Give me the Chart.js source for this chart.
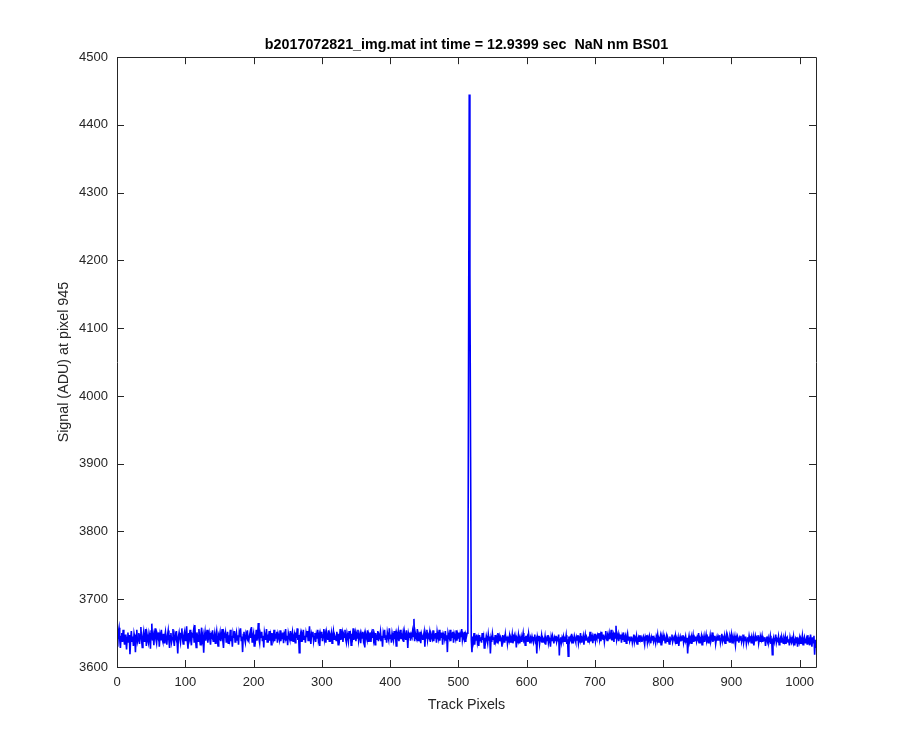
<!DOCTYPE html>
<html>
<head>
<meta charset="utf-8">
<script src="https://cdn.jsdelivr.net/npm/chart.js@4/dist/chart.umd.min.js"></script>
<style>
  body { margin: 0; background: #fff; }
  canvas { display: block; }
</style>
</head>
<body>
<canvas id="myChart" width="900" height="750"></canvas>
<script>
// signal along the track, one value per pixel starting at pixel 1
const chartTitle = 'b2017072821_img.mat int time = 12.9399 sec  NaN nm BS01'
const xLabel = 'Track Pixels'
const yLabel = 'Signal (ADU) at pixel 945'
const xTicks = [0, 100, 200, 300, 400, 500, 600, 700, 800, 900, 1000]
const yTicks = [3600, 3700, 3800, 3900, 4000, 4100, 4200, 4300, 4400, 4500]
const firstPixel = 1

const signal = [
  3630,3652,3658,3641,3628,3645,3650,3637,3655,3642,3633,3648,3639,3626,3644,3651,
  3636,3647,3619,3640,3653,3638,3645,3631,3649,3643,3622,3646,3655,3637,3641,3650,
  3634,3647,3659,3640,3629,3645,3652,3638,3643,3656,3631,3648,3641,3636,3650,3645,
  3627,3653,3664,3639,3646,3632,3649,3657,3641,3635,3648,3644,3651,3630,3646,3639,
  3655,3642,3638,3649,3636,3645,3652,3641,3633,3647,3654,3640,3628,3646,3650,3637,
  3643,3656,3639,3631,3648,3644,3653,3638,3620,3645,3651,3642,3636,3649,3657,3641,
  3634,3647,3652,3639,3645,3660,3638,3627,3650,3643,3655,3640,3632,3648,3646,3653,
  3637,3662,3641,3629,3651,3645,3638,3656,3643,3633,3649,3658,3640,3646,3621,3644,
  3652,3639,3647,3655,3636,3644,3650,3641,3633,3648,3645,3654,3638,3642,3649,3635,
  3646,3653,3640,3631,3647,3644,3651,3638,3645,3656,3639,3628,3648,3643,3650,3637,
  3644,3652,3635,3647,3641,3655,3638,3646,3630,3649,3643,3653,3637,3645,3651,3640,
  3647,3633,3650,3644,3657,3639,3645,3622,3648,3652,3641,3636,3649,3645,3654,3640,
  3638,3646,3651,3643,3659,3637,3645,3650,3631,3648,3642,3655,3639,3646,3665,3641,
  3635,3649,3644,3652,3638,3646,3629,3651,3645,3640,3656,3637,3648,3643,3653,3639,
  3646,3633,3650,3645,3641,3655,3638,3647,3643,3652,3636,3649,3645,3640,3654,3638,
  3647,3642,3651,3635,3648,3644,3656,3640,3646,3632,3650,3645,3641,3653,3639,3646,
  3652,3638,3645,3649,3636,3651,3643,3657,3640,3647,3621,3645,3650,3638,3648,3644,
  3655,3641,3646,3636,3650,3644,3653,3639,3647,3660,3642,3634,3649,3645,3652,3638,
  3645,3650,3637,3648,3643,3655,3640,3646,3631,3649,3644,3652,3638,3647,3656,3641,
  3648,3636,3651,3645,3640,3654,3638,3647,3643,3650,3635,3646,3653,3641,3647,3644,
  3639,3652,3645,3633,3649,3643,3656,3640,3646,3651,3637,3648,3644,3655,3641,3636,
  3650,3645,3638,3653,3642,3647,3632,3649,3644,3657,3640,3646,3651,3638,3648,3643,
  3655,3639,3646,3650,3635,3648,3643,3652,3640,3646,3629,3650,3645,3641,3654,3638,
  3647,3643,3651,3637,3649,3644,3656,3640,3646,3633,3650,3645,3641,3653,3638,3647,
  3644,3652,3639,3646,3630,3649,3643,3655,3641,3647,3636,3651,3645,3640,3657,3642,
  3648,3636,3650,3644,3639,3653,3641,3647,3631,3649,3645,3652,3638,3646,3655,3641,
  3647,3643,3650,3637,3652,3645,3640,3654,3646,3628,3649,3644,3651,3639,3648,3645,
  3653,3645,3671,3638,3650,3644,3641,3656,3639,3647,3643,3652,3635,3649,3645,3640,
  3646,3652,3630,3648,3643,3655,3640,3647,3644,3651,3637,3649,3645,3642,3654,3638,
  3647,3643,3650,3636,3652,3645,3641,3655,3639,3648,3644,3651,3633,3649,3646,3641,
  3653,3640,3647,3622,3650,3645,3642,3655,3638,3648,3644,3652,3636,3649,3645,3641,
  3654,3639,3648,3643,3651,3637,3649,3645,3656,3640,3647,3643,3652,3638,3648,3645,
  3650,3655,4050,4445,4180,3910,3640,3622,3645,3638,3650,3633,3644,3640,3648,3636,
  3642,3631,3647,3639,3644,3636,3650,3640,3645,3628,3643,3638,3646,3641,3635,3648,
  3640,3645,3620,3642,3637,3649,3641,3644,3633,3647,3639,3643,3636,3650,3640,3645,
  3638,3644,3641,3630,3647,3639,3643,3636,3648,3640,3645,3634,3642,3639,3646,3637,
  3643,3640,3648,3635,3641,3646,3638,3644,3629,3642,3639,3647,3636,3643,3640,3645,
  3637,3643,3650,3639,3641,3632,3646,3640,3644,3637,3649,3641,3635,3643,3639,3645,
  3640,3636,3643,3648,3638,3641,3620,3644,3639,3646,3634,3642,3640,3647,3637,3643,
  3641,3638,3645,3633,3642,3639,3647,3636,3643,3640,3630,3644,3638,3646,3641,3635,
  3643,3639,3646,3637,3642,3640,3648,3617,3641,3644,3636,3643,3639,3645,3638,3642,
  3640,3647,3634,3641,3616,3645,3638,3643,3640,3649,3636,3642,3639,3646,3641,3637,
  3644,3640,3647,3635,3642,3639,3650,3637,3643,3641,3646,3633,3642,3648,3639,3644,
  3641,3637,3645,3640,3652,3638,3643,3646,3635,3644,3640,3649,3638,3645,3642,3647,
  3643,3650,3640,3646,3638,3652,3644,3641,3648,3637,3645,3653,3642,3639,3647,3644,
  3650,3641,3646,3655,3639,3644,3648,3637,3651,3643,3661,3640,3645,3649,3638,3646,
  3642,3648,3636,3645,3640,3651,3638,3644,3647,3635,3643,3649,3640,3645,3638,3642,
  3639,3645,3636,3642,3648,3637,3643,3640,3646,3634,3641,3644,3638,3647,3640,3643,
  3637,3642,3645,3639,3633,3644,3640,3647,3636,3643,3639,3646,3641,3635,3644,3640,
  3646,3638,3643,3640,3635,3645,3641,3648,3637,3642,3639,3645,3633,3644,3640,3647,
  3639,3644,3636,3641,3646,3638,3643,3640,3634,3645,3639,3642,3648,3637,3641,3644,
  3640,3646,3635,3642,3639,3644,3631,3641,3645,3638,3643,3640,3647,3636,3642,3639,
  3645,3637,3643,3620,3640,3646,3638,3642,3635,3644,3640,3647,3637,3643,3639,3645,
  3638,3644,3641,3650,3636,3642,3639,3645,3633,3643,3640,3646,3637,3642,3648,3639,
  3643,3636,3645,3640,3647,3638,3642,3651,3637,3644,3640,3646,3634,3641,3645,3639,
  3644,3640,3647,3636,3642,3649,3638,3643,3640,3646,3635,3642,3648,3639,3644,3640,
  3637,3645,3641,3648,3636,3643,3639,3646,3640,3632,3644,3638,3645,3641,3636,3643,
  3640,3646,3637,3642,3648,3636,3643,3639,3645,3634,3641,3644,3638,3646,3640,3642,
  3636,3643,3639,3645,3632,3641,3646,3638,3643,3640,3647,3635,3642,3638,3644,3640,
  3646,3637,3642,3639,3644,3631,3641,3645,3638,3643,3636,3640,3646,3634,3642,3618,
  3640,3644,3637,3642,3648,3636,3641,3639,3645,3633,3640,3643,3637,3644,3640,3635,
  3642,3638,3645,3634,3640,3643,3637,3641,3632,3644,3639,3636,3642,3638,3645,3633,
  3639,3642,3636,3644,3630,3640,3637,3643,3635,3641,3638,3646,3633,3640,3644,3636,
  3638,3642,3634,3647,3637,3640,3632,3648,3639,3630,3644,3636,3646,3618,3640,3628
]

const axisColor = '#262626'
const tickFont = { family: 'Liberation Sans, Arial, sans-serif', size: 13 }
const labelFont = { family: 'Liberation Sans, Arial, sans-serif', size: 14.3 }

// matlab style box with inward ticks on all four sides
const boxAxes = {
  id: 'boxAxes',
  afterDraw(chart) {
    const { ctx, chartArea: a, scales } = chart
    const len = 7
    ctx.save()
    ctx.strokeStyle = axisColor
    ctx.lineWidth = 1
    ctx.beginPath()
    ctx.rect(Math.round(a.left) + 0.5, Math.round(a.top) + 0.5,
      Math.round(a.right - a.left), Math.round(a.bottom - a.top))
    xTicks.forEach((v) => {
      const px = Math.round(scales.x.getPixelForValue(v)) + 0.5
      ctx.moveTo(px, a.bottom); ctx.lineTo(px, a.bottom - len)
      ctx.moveTo(px, a.top); ctx.lineTo(px, a.top + len)
    })
    yTicks.forEach((v) => {
      const py = Math.round(scales.y.getPixelForValue(v)) + 0.5
      ctx.moveTo(a.left, py); ctx.lineTo(a.left + len, py)
      ctx.moveTo(a.right, py); ctx.lineTo(a.right - len, py)
    })
    ctx.stroke()
    ctx.restore()
  }
}

new Chart('myChart', {
  type: 'line',
  data: {
    datasets: [{
      data: signal.map((v, i) => ({ x: firstPixel + i, y: v })),
      borderColor: '#0000ff',
      borderWidth: 1.6,
      pointRadius: 0,
      tension: 0,
      fill: false
    }]
  },
  options: {
    responsive: false,
    animation: false,
    events: [],
    layout: { padding: { left: 0, right: 84, top: 0, bottom: 0 } },
    plugins: {
      legend: { display: false },
      tooltip: { enabled: false },
      title: {
        display: true,
        text: chartTitle,
        fullSize: false,
        color: '#000',
        font: { ...labelFont, weight: 'bold' },
        padding: { top: 36, bottom: 4 }
      }
    },
    scales: {
      x: {
        type: 'linear',
        min: 0,
        max: 1024,
        afterBuildTicks: (scale) => { scale.ticks = xTicks.map((v) => ({ value: v })) },
        afterFit: (scale) => { scale.height = 83 },
        grid: { display: false, drawTicks: false },
        border: { display: false },
        ticks: { color: axisColor, font: tickFont, padding: 8, maxRotation: 0, callback: (v) => String(v) },
        title: { display: true, text: xLabel, color: axisColor, font: labelFont, padding: { top: 0, bottom: 36 } }
      },
      y: {
        type: 'linear',
        min: 3600,
        max: 4500,
        afterBuildTicks: (scale) => { scale.ticks = yTicks.map((v) => ({ value: v })) },
        afterFit: (scale) => { scale.width = 117 },
        grid: { display: false, drawTicks: false },
        border: { display: false },
        ticks: { color: axisColor, font: tickFont, padding: 9, callback: (v) => String(v) },
        title: { display: true, text: yLabel, color: axisColor, font: labelFont, padding: { top: 55, bottom: 0 } }
      }
    }
  },
  plugins: [boxAxes]
})
</script>
</body>
</html>
